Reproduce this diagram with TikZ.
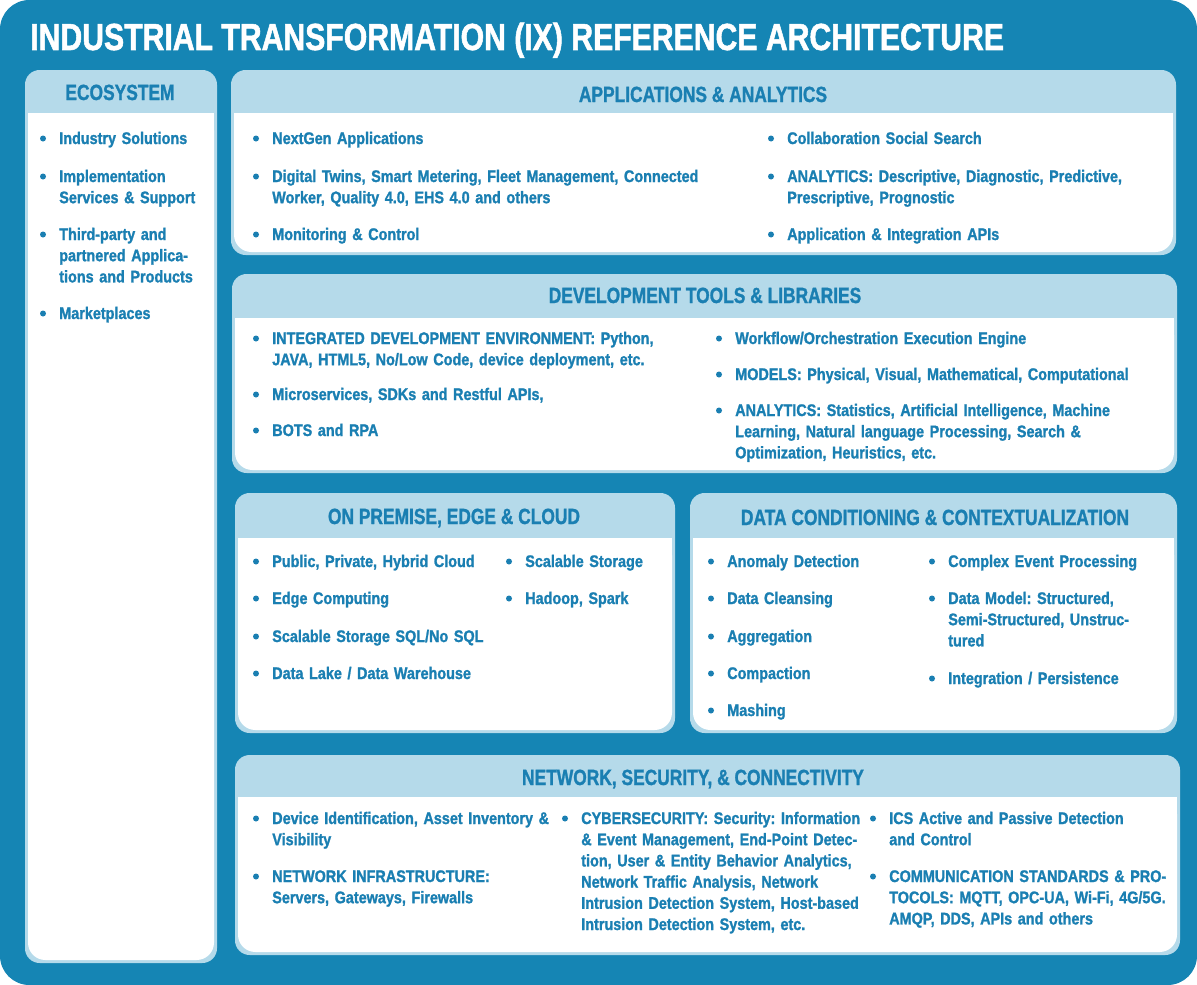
\documentclass[tikz,border=0pt]{standalone}
\usepackage{fontspec}
\newfontfamily\cond[FakeStretch=0.857,FakeBold=1.3]{Liberation Sans}
\newfontfamily\condh[FakeStretch=0.79,FakeBold=1.2]{Liberation Sans}
\newfontfamily\condt[FakeStretch=0.80,FakeBold=1.4]{Liberation Sans}
\definecolor{bgblue}{HTML}{1585B4}
\definecolor{hdblue}{HTML}{B5DAEA}
\definecolor{txblue}{HTML}{1A7FB2}
\newcommand\itm[4]{%
  \node[bul] (#1b) at (#2-16,#3-5.5) {};
  \node[txt] (#1) at (#2,#3) {#4};}
\newcommand\panel[6]{%
  \fill[hdblue, rounded corners=11pt] (#2,#3) rectangle (#4,#5);
  \fill[white, rounded corners=13pt] (#2+3,#6) rectangle (#4-3,#5-3);
  \fill[white] (#2+3,#6) rectangle (#4-3,#6+25);
  \coordinate (#1) at (#2,#3);}
\begin{document}
\begin{tikzpicture}[x=0.75pt,y=-0.75pt,
  txt/.style={anchor=base west, inner sep=0pt, text width=480pt, align=left, text=txblue,
    font=\cond\bfseries\fontsize{12.6}{15.9}\selectfont\frenchspacing},
  hd/.style={anchor=base, inner sep=0pt, text=txblue, font=\condh\bfseries\fontsize{16.5}{18}\selectfont},
  ttl/.style={anchor=base west, inner sep=0pt, text=white, font=\condt\bfseries\fontsize{28.3}{30}\selectfont},
  bul/.style={circle, fill=txblue, inner sep=0pt, minimum size=4.5pt}]
\useasboundingbox (0,0) rectangle (1197,985);
\fill[white] (0,0) rectangle (1197,985);
\fill[bgblue, rounded corners=22pt] (0,0) rectangle (1197,985);
\node[ttl] (title) at (30,50) {INDUSTRIAL TRANSFORMATION (IX) REFERENCE ARCHITECTURE};

% panels
\panel{eco}{25}{70}{217}{963}{113}
\panel{app}{231}{70}{1176}{255}{113}
\panel{dev}{232}{274}{1177}{473}{318}
\panel{prem}{235}{493}{675}{733}{538}
\panel{cond}{690}{493}{1177}{733}{538}
\panel{net}{235}{755}{1180}{955}{797}

% headers
\node[hd] (ecoh) at (120,100) {ECOSYSTEM};
\node[hd] (apph) at (703,102) {APPLICATIONS \& ANALYTICS};
\node[hd] (devh) at (705,303) {DEVELOPMENT TOOLS \& LIBRARIES};
\node[hd] (premh) at (454,524) {ON PREMISE, EDGE \& CLOUD};
\node[hd] (condh) at (935,525) {DATA CONDITIONING \& CONTEXTUALIZATION};
\node[hd] (neth) at (693,785) {NETWORK, SECURITY, \& CONNECTIVITY};

% ecosystem
\itm{e1}{59}{144}{Industry Solutions}
\itm{e2}{59}{182}{Implementation\\Services \& Support}
\itm{e3}{59}{240}{Third-party and\\partnered Applica-\\tions and Products}
\itm{e4}{59}{319}{Marketplaces}

% applications
\itm{a1}{272}{144}{NextGen Applications}
\itm{a2}{272}{182}{Digital Twins, Smart Metering, Fleet Management, Connected\\Worker, Quality 4.0, EHS 4.0 and others}
\itm{a3}{272}{240}{Monitoring \& Control}
\itm{a4}{787}{144}{Collaboration Social Search}
\itm{a5}{787}{182}{ANALYTICS: Descriptive, Diagnostic, Predictive,\\Prescriptive, Prognostic}
\itm{a6}{787}{240}{Application \& Integration APIs}

% development
\itm{d1}{272}{344}{INTEGRATED DEVELOPMENT ENVIRONMENT: Python,\\JAVA, HTML5, No/Low Code, device deployment, etc.}
\itm{d2}{272}{400}{Microservices, SDKs and Restful APIs,}
\itm{d3}{272}{436}{BOTS and RPA}
\itm{d4}{735}{344}{Workflow/Orchestration Execution Engine}
\itm{d5}{735}{380}{MODELS: Physical, Visual, Mathematical, Computational}
\itm{d6}{735}{416}{ANALYTICS: Statistics, Artificial Intelligence, Machine\\Learning, Natural language Processing, Search \&\\Optimization, Heuristics, etc.}

% on premise
\itm{p1}{272}{567}{Public, Private, Hybrid Cloud}
\itm{p2}{272}{604}{Edge Computing}
\itm{p3}{272}{642}{Scalable Storage SQL/No SQL}
\itm{p4}{272}{679}{Data Lake / Data Warehouse}
\itm{p5}{525}{567}{Scalable Storage}
\itm{p6}{525}{604}{Hadoop, Spark}

% data conditioning
\itm{c1}{727}{567}{Anomaly Detection}
\itm{c2}{727}{604}{Data Cleansing}
\itm{c3}{727}{642}{Aggregation}
\itm{c4}{727}{679}{Compaction}
\itm{c5}{727}{716}{Mashing}
\itm{c6}{948}{567}{Complex Event Processing}
\itm{c7}{948}{604}{Data Model: Structured,\\Semi-Structured, Unstruc-\\tured}
\itm{c8}{948}{684}{Integration / Persistence}

% network
\itm{n1}{272}{824}{Device Identification, Asset Inventory \&\\Visibility}
\itm{n2}{272}{882}{NETWORK INFRASTRUCTURE:\\Servers, Gateways, Firewalls}
\itm{n3}{581}{824}{CYBERSECURITY: Security: Information\\\& Event Management, End-Point Detec-\\tion, User \& Entity Behavior Analytics,\\Network Traffic Analysis, Network\\Intrusion Detection System, Host-based\\Intrusion Detection System, etc.}
\itm{n4}{889}{824}{ICS Active and Passive Detection\\and Control}
\itm{n5}{889}{882}{COMMUNICATION STANDARDS \& PRO-\\TOCOLS: MQTT, OPC-UA, Wi-Fi, 4G/5G.\\AMQP, DDS, APIs and others}
\end{tikzpicture}
\end{document}
